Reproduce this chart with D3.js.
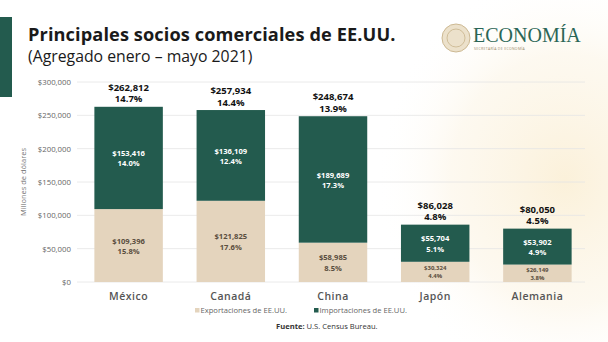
<!DOCTYPE html>
<html>
<head>
<meta charset="utf-8">
<script src="https://cdn.jsdelivr.net/npm/d3@7"></script>
<style>
  body { margin: 0; background: #fff; }
  svg { display: block; font-family: "Open Sans", sans-serif; }
</style>
</head>
<body>
<div id="chart"></div>
<script>
// data (millones de dólares)
const countries = ["México", "Canadá", "China", "Japón", "Alemania"];
const exportsVal = [109396, 121825, 58985, 30324, 26149];
const exportsPct = ["15.8%", "17.6%", "8.5%", "4.4%", "3.8%"];
const importsVal = [153416, 136109, 189689, 55704, 53902];
const importsPct = ["14.0%", "12.4%", "17.3%", "5.1%", "4.9%"];
const totalsVal = [262812, 257934, 248674, 86028, 80050];
const totalsPct = ["14.7%", "14.4%", "13.9%", "4.8%", "4.5%"];
const yTicks = [0, 50000, 100000, 150000, 200000, 250000, 300000];
const seriesNames = ["Exportaciones de EE.UU.", "Importaciones de EE.UU."];

const W = 608, H = 342;
const green = "#235b4e", beige = "#e4d4bd";

const svg = d3.select("#chart").append("svg")
    .attr("width", W)
    .attr("height", H);

// faint watermark glow on the right
const defs = svg.append("defs");
const rg = defs.append("radialGradient").attr("id", "glow")
    .attr("cx", 0.5).attr("cy", 0.5).attr("r", 0.5);
rg.append("stop").attr("offset", "0%").attr("stop-color", "#fbf0d8").attr("stop-opacity", 0.95);
rg.append("stop").attr("offset", "60%").attr("stop-color", "#fcf5e6").attr("stop-opacity", 0.6);
rg.append("stop").attr("offset", "100%").attr("stop-color", "#ffffff").attr("stop-opacity", 0);
svg.append("ellipse")
    .attr("cx", 565).attr("cy", 180).attr("rx", 190).attr("ry", 210)
    .attr("fill", "url(#glow)");

// green band on the left
svg.append("rect").attr("x", 0).attr("y", 17).attr("width", 12).attr("height", 80).attr("fill", green);

// titles
svg.append("text").attr("x", 28).attr("y", 40.5)
    .attr("font-size", 18.2).attr("font-weight", 700).attr("fill", "#1a1a1a")
    .attr("letter-spacing", 0.1)
    .text("Principales socios comerciales de EE.UU.");
svg.append("text").attr("x", 28).attr("y", 62)
    .attr("font-size", 15.8).attr("fill", "#1a1a1a")
    .text("(Agregado enero – mayo 2021)");

// logo
const logo = svg.append("g");
logo.append("circle").attr("cx", 456).attr("cy", 38).attr("r", 14)
    .attr("fill", "#ece1cb").attr("stroke", "#cdb993").attr("stroke-width", 1);
logo.append("circle").attr("cx", 456).attr("cy", 38).attr("r", 9)
    .attr("fill", "none").attr("stroke", "#c8b48c").attr("stroke-width", 0.8);
logo.append("text").attr("x", 473).attr("y", 42)
    .attr("font-family", "'Liberation Serif', 'DejaVu Serif', serif")
    .attr("font-size", 20).attr("fill", "#2b6656")
    .text("ECONOMÍA");
logo.append("text").attr("x", 474).attr("y", 50)
    .attr("font-size", 3.5).attr("fill", "#9b8a6a").attr("letter-spacing", 0.3)
    .text("SECRETARÍA DE ECONOMÍA");

// scales
const x = d3.scaleBand()
    .domain(countries)
    .range([77, 589])
    .paddingInner(0.33)
    .paddingOuter(0.17);
const y = d3.scaleLinear()
    .domain([0, 300000])
    .range([282, 82]);

// grid
svg.append("g")
    .selectAll("line")
    .data(yTicks)
    .join("line")
    .attr("x1", 77).attr("x2", 585)
    .attr("y1", d => y(d)).attr("y2", d => y(d))
    .attr("stroke", "#e4e4e4").attr("stroke-width", 0.8);

// y axis
const yAxis = svg.append("g")
    .attr("transform", "translate(71,0)")
    .call(d3.axisLeft(y).tickValues(yTicks).tickSize(0).tickPadding(0)
        .tickFormat(d => "$" + d3.format(",")(d)));
yAxis.select(".domain").remove();
yAxis.selectAll("text").attr("font-size", 7.8).attr("fill", "#666")
    .attr("font-family", "'Open Sans', sans-serif");

svg.append("text")
    .attr("transform", "translate(26,182) rotate(-90)")
    .attr("text-anchor", "middle")
    .attr("font-size", 7.5).attr("fill", "#777")
    .text("Millones de dólares");

// stacked bars
const rows = countries.map((c, i) => ({
    country: c, exp: exportsVal[i], imp: importsVal[i],
    expPct: exportsPct[i], impPct: importsPct[i],
    tot: totalsVal[i], totPct: totalsPct[i]
}));
const stack = d3.stack().keys(["exp", "imp"])(rows);
const colors = {exp: beige, imp: green};

svg.append("g")
    .selectAll("g")
    .data(stack)
    .join("g")
    .attr("fill", s => colors[s.key])
    .selectAll("rect")
    .data(s => s)
    .join("rect")
    .attr("x", d => x(d.data.country))
    .attr("y", d => y(d[1]))
    .attr("width", x.bandwidth())
    .attr("height", d => y(d[0]) - y(d[1]));

// labels inside segments
const fmt = d => "$" + d3.format(",")(d);
stack.forEach(s => {
    const g = svg.append("g");
    s.forEach(d => {
        const h = y(d[0]) - y(d[1]);
        const small = h < 25;
        const fs = small ? 6 : 7.6;
        const cx = x(d.data.country) + x.bandwidth() / 2;
        const cy = (y(d[0]) + y(d[1])) / 2;
        const t = g.append("text")
            .attr("text-anchor", "middle")
            .attr("font-size", fs)
            .attr("font-weight", 700)
            .attr("fill", s.key === "imp" ? "#ffffff" : "#5a4e40");
        t.append("tspan").attr("x", cx).attr("y", cy - fs * 0.25)
            .text(fmt(s.key === "imp" ? d.data.imp : d.data.exp));
        t.append("tspan").attr("x", cx).attr("y", cy + fs * 1.1)
            .text(s.key === "imp" ? d.data.impPct : d.data.expPct);
    });
});

// totals above bars (two separate lines)
const totG = svg.append("g")
    .attr("font-size", 9.5)
    .attr("font-weight", 700)
    .attr("fill", "#111")
    .attr("text-anchor", "middle");
totG.selectAll("text.amt")
    .data(rows)
    .join("text")
    .attr("class", "amt")
    .attr("x", d => x(d.country) + x.bandwidth() / 2)
    .attr("y", d => y(d.tot) - 16)
    .text(d => fmt(d.tot));
totG.selectAll("text.pct")
    .data(rows)
    .join("text")
    .attr("class", "pct")
    .attr("x", d => x(d.country) + x.bandwidth() / 2)
    .attr("y", d => y(d.tot) - 4.5)
    .text(d => d.totPct);

// x axis labels
const xAxis = svg.append("g")
    .attr("transform", "translate(0,282)")
    .call(d3.axisBottom(x).tickSize(0).tickPadding(11));
xAxis.select(".domain").remove();
xAxis.selectAll("text").attr("font-size", 10.5).attr("font-weight", 600)
    .attr("fill", "#555").attr("font-family", "'Open Sans', sans-serif")
    .attr("letter-spacing", 0.5);

// legend
const legend = svg.append("g");
const legX = [195, 314];
seriesNames.forEach((n, i) => {
    legend.append("rect").attr("x", legX[i]).attr("y", 308)
        .attr("width", 4.5).attr("height", 4.5)
        .attr("fill", i === 0 ? beige : green);
    legend.append("text").attr("x", legX[i] + 5.5).attr("y", 313)
        .attr("font-size", 7.6).attr("fill", "#666")
        .text(n);
});

// source
const src = svg.append("text").attr("x", 276).attr("y", 329)
    .attr("font-size", 7.6).attr("fill", "#333");
src.append("tspan").attr("font-weight", 700).text("Fuente: ");
src.append("tspan").text("U.S. Census Bureau.");
</script>
</body>
</html>
